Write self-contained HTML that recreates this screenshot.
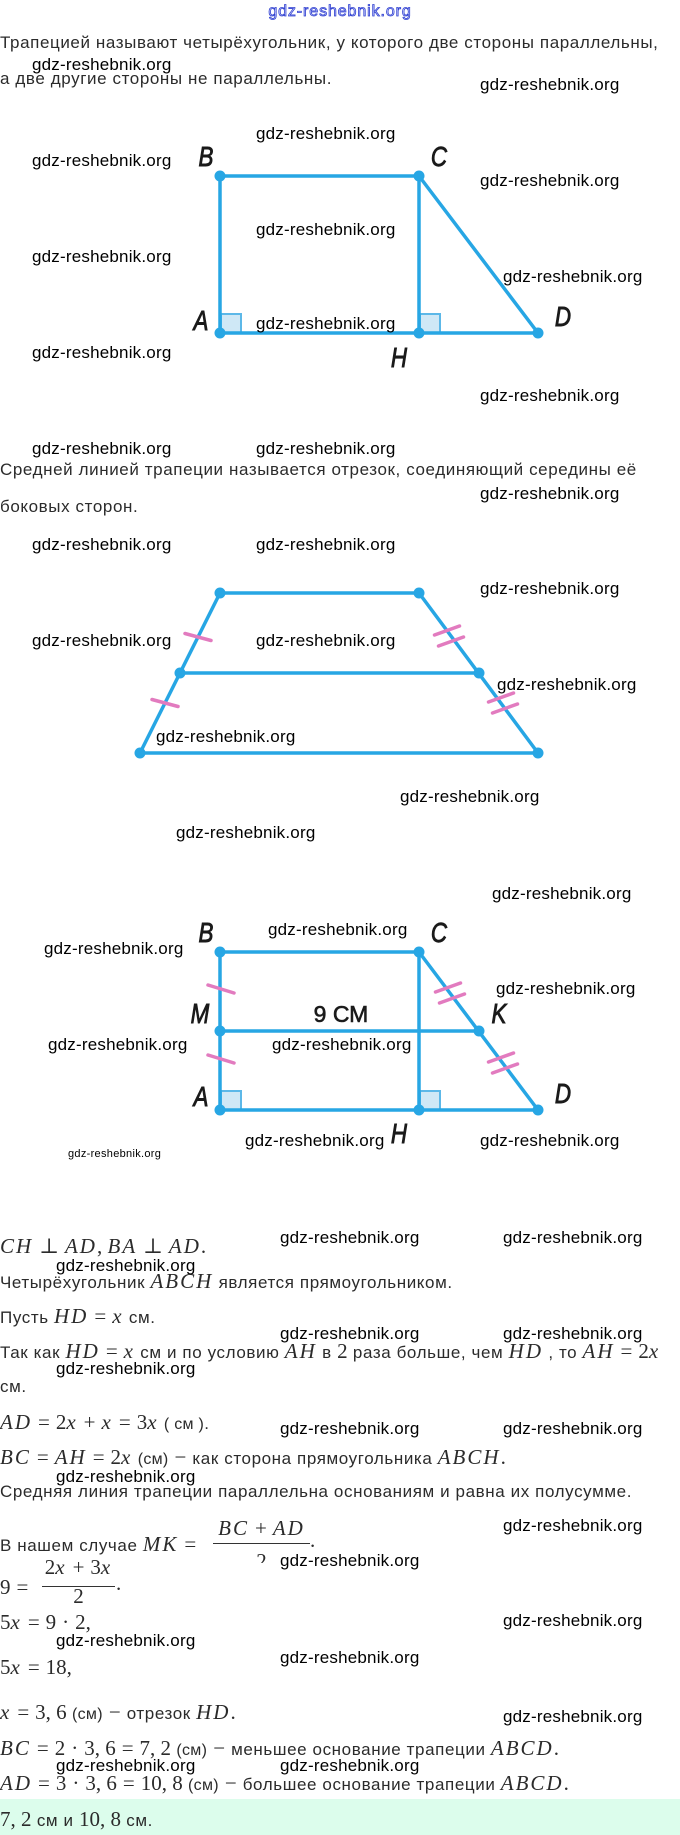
<!DOCTYPE html>
<html><head><meta charset="utf-8">
<style>
html,body{margin:0;padding:0;background:#fff;}
body{width:680px;height:1835px;position:relative;overflow:hidden;font-family:"Liberation Sans","DejaVu Sans",sans-serif;}
.t{position:absolute;left:0;white-space:nowrap;font-size:17px;line-height:20px;color:#2b2b2b;letter-spacing:0.6px;}
.w{position:absolute;white-space:nowrap;font-size:17px;line-height:20px;color:#000;font-family:"Liberation Sans",sans-serif;letter-spacing:0.2px;}
.m{font-family:"Liberation Serif","DejaVu Serif",serif;font-style:italic;font-size:21px;letter-spacing:2px;color:#2b2b2b;}
.r{font-family:"Liberation Serif","DejaVu Serif",serif;font-size:21px;color:#2b2b2b;letter-spacing:0;}
.o{font-family:"Liberation Serif","DejaVu Serif",serif;font-size:21px;margin:0 6px;color:#2b2b2b;letter-spacing:0;}
.c{font-size:16px;letter-spacing:0.3px;}
.fr{position:absolute;text-align:center;white-space:nowrap;font-size:17px;line-height:20px;}
.bar{position:absolute;height:1px;background:#333;}
</style></head>
<body>

<svg width="680" height="1835" style="position:absolute;left:0;top:0" xmlns="http://www.w3.org/2000/svg">
  <g fill="#cfe8f6" stroke="#5cb8e8" stroke-width="2">
    <rect x="221" y="314" width="20" height="19"/>
    <rect x="420" y="314" width="20" height="19"/>
    <rect x="221" y="1091" width="20" height="19"/>
    <rect x="420" y="1091" width="20" height="19"/>
  </g>
  <g stroke="#27a6e4" stroke-width="3.5" stroke-linecap="round" fill="none">
    <path d="M220 176H419M220 176V333M419 176V333M419 176L538 333M220 333H538"/>
    <path d="M220 593H419M220 593L140 753M419 593L538 753M180 673H479M140 753H538"/>
    <path d="M220 952H419M220 952V1110M419 952V1110M419 952L538 1110M220 1110H538M220 1031H479"/>
  </g>
  <g fill="#27a6e4">
    <circle cx="220" cy="176" r="5.5"/><circle cx="419" cy="176" r="5.5"/>
    <circle cx="220" cy="333" r="5.5"/><circle cx="419" cy="333" r="5.5"/><circle cx="538" cy="333" r="5.5"/>
    <circle cx="220" cy="593" r="5.5"/><circle cx="419" cy="593" r="5.5"/>
    <circle cx="180" cy="673" r="5.5"/><circle cx="479" cy="673" r="5.5"/>
    <circle cx="140" cy="753" r="5.5"/><circle cx="538" cy="753" r="5.5"/>
    <circle cx="220" cy="952" r="5.5"/><circle cx="419" cy="952" r="5.5"/>
    <circle cx="220" cy="1031" r="5.5"/><circle cx="479" cy="1031" r="5.5"/>
    <circle cx="220" cy="1110" r="5.5"/><circle cx="419" cy="1110" r="5.5"/><circle cx="538" cy="1110" r="5.5"/>
  </g>
  <g stroke="#e27bbf" stroke-width="3.5" stroke-linecap="round" fill="none">
    <path d="M185 633.5L211 640.5"/>
    <path d="M152 699.5L178 706.5"/>
    <path d="M434.5 635L459.5 626M438.5 646L463.5 637"/>
    <path d="M488.5 702L513.5 693M492.5 713L517.5 704"/>
    <path d="M208 985L234 993"/>
    <path d="M208 1055L234 1063"/>
    <path d="M435.5 992L460.5 983M439.5 1003L464.5 994"/>
    <path d="M488.5 1062L513.5 1053M492.5 1073L517.5 1064"/>
  </g>
  <g font-family="Liberation Sans, sans-serif" font-style="italic" font-size="28" fill="#1a1a1a" stroke="#1a1a1a" stroke-width="0.9" text-anchor="middle">
    <text transform="translate(206,166) scale(0.8,1)">B</text>
    <text transform="translate(439,166) scale(0.8,1)">C</text>
    <text transform="translate(201,330) scale(0.8,1)">A</text>
    <text transform="translate(563,326) scale(0.8,1)">D</text>
    <text transform="translate(399,367) scale(0.8,1)">H</text>
    <text transform="translate(206,942) scale(0.8,1)">B</text>
    <text transform="translate(439,942) scale(0.8,1)">C</text>
    <text transform="translate(200,1023) scale(0.8,1)">M</text>
    <text transform="translate(499,1023) scale(0.8,1)">K</text>
    <text transform="translate(201,1106) scale(0.8,1)">A</text>
    <text transform="translate(563,1103) scale(0.8,1)">D</text>
    <text transform="translate(399,1143) scale(0.8,1)">H</text>
  </g>
  <text x="341" y="1022" font-family="Liberation Sans, sans-serif" font-size="23" fill="#1a1a1a" stroke="#1a1a1a" stroke-width="0.6" text-anchor="middle">9 СМ</text>
</svg>

<div style="position:absolute;left:0;top:2px;width:680px;text-align:center;font-size:16px;line-height:20px;letter-spacing:0.9px;color:#d8dcff;-webkit-text-stroke:0.8px #3040d0;">gdz-reshebnik.org</div>

<div class="t" style="top:33px">Трапецией называют четырёхугольник, у которого две стороны параллельны,</div>
<div class="t" style="top:69px">а две другие стороны не параллельны.</div>
<div class="t" style="top:460px">Средней линией трапеции называется отрезок, соединяющий середины её</div>
<div class="t" style="top:497px">боковых сторон.</div>

<div class="t" style="top:1236px"><span class="m">CH</span><span class="o">⊥</span><span class="m">AD</span><span class="r">,</span> <span class="m">BA</span><span class="o">⊥</span><span class="m">AD</span><span class="r">.</span></div>
<div class="t" style="top:1271px">Четырёхугольник <span class="m">ABCH</span> является прямоугольником.</div>
<div class="t" style="top:1306px">Пусть <span class="m">HD</span><span class="o">=</span><span class="m">x</span> см.</div>
<div class="t" style="top:1341px">Так как <span class="m">HD</span><span class="o">=</span><span class="m">x</span> см и по условию <span class="m">AH</span> в <span class="r">2</span> раза больше, чем <span class="m">HD</span> , то <span class="m">AH</span><span class="o">=</span><span class="r">2</span><span class="m">x</span></div>
<div class="t" style="top:1377px">см.</div>
<div class="t" style="top:1412px"><span class="m">AD</span><span class="o">=</span><span class="r">2</span><span class="m">x</span><span class="o">+</span><span class="m">x</span><span class="o">=</span><span class="r">3</span><span class="m">x</span> <span class="c">( см )</span>.</div>
<div class="t" style="top:1447px"><span class="m">BC</span><span class="o">=</span><span class="m">AH</span><span class="o">=</span><span class="r">2</span><span class="m">x</span> <span class="c">(см)</span><span class="o">−</span>как сторона прямоугольника <span class="m">ABCH</span><span class="r">.</span></div>
<div class="t" style="top:1482px">Средняя линия трапеции параллельна основаниям и равна их полусумме.</div>

<div class="t" style="top:1534px">В нашем случае <span class="m">MK</span><span class="o">=</span></div>
<div class="fr" style="left:213px;width:97px;top:1518px"><span class="m">BC</span><span class="o">+</span><span class="m">AD</span></div>
<div class="bar" style="left:213px;top:1543px;width:97px"></div>
<div style="position:absolute;left:213px;top:1553px;width:97px;height:10px;overflow:hidden;">
  <div class="fr" style="left:0;width:97px;top:-2px"><span class="r">2</span></div>
</div>
<div class="t" style="top:1530px;left:310px"><span class="r">.</span></div>

<div class="t" style="top:1577px"><span class="r">9</span><span class="o">=</span></div>
<div class="fr" style="left:42px;width:73px;top:1557px"><span class="r">2</span><span class="m">x</span><span class="o">+</span><span class="r">3</span><span class="m">x</span></div>
<div class="bar" style="left:42px;top:1586px;width:73px"></div>
<div class="fr" style="left:42px;width:73px;top:1586px"><span class="r">2</span></div>
<div class="t" style="top:1573px;left:116px"><span class="r">.</span></div>

<div class="t" style="top:1612px"><span class="r">5</span><span class="m">x</span><span class="o">=</span><span class="r">9</span><span class="o">·</span><span class="r">2,</span></div>
<div class="t" style="top:1657px"><span class="r">5</span><span class="m">x</span><span class="o">=</span><span class="r">18,</span></div>
<div class="t" style="top:1702px"><span class="m">x</span><span class="o">=</span><span class="r">3, 6</span> <span class="c">(см)</span><span class="o">−</span>отрезок <span class="m">HD</span><span class="r">.</span></div>
<div class="t" style="top:1738px"><span class="m">BC</span><span class="o">=</span><span class="r">2</span><span class="o">·</span><span class="r">3, 6</span><span class="o">=</span><span class="r">7, 2</span> <span class="c">(см)</span><span class="o">−</span>меньшее основание трапеции <span class="m">ABCD</span><span class="r">.</span></div>
<div class="t" style="top:1773px"><span class="m">AD</span><span class="o">=</span><span class="r">3</span><span class="o">·</span><span class="r">3, 6</span><span class="o">=</span><span class="r">10, 8</span> <span class="c">(см)</span><span class="o">−</span>большее основание трапеции <span class="m">ABCD</span><span class="r">.</span></div>

<div style="position:absolute;left:0;top:1799px;width:680px;height:36px;background:#dcfdec;"></div>
<div class="t" style="top:1809px"><span class="r">7, 2</span> см и <span class="r">10, 8</span> см.</div>

<div class="w" style="left:32px;top:55px">gdz-reshebnik.org</div>
<div class="w" style="left:480px;top:75px">gdz-reshebnik.org</div>
<div class="w" style="left:256px;top:124px">gdz-reshebnik.org</div>
<div class="w" style="left:32px;top:151px">gdz-reshebnik.org</div>
<div class="w" style="left:480px;top:171px">gdz-reshebnik.org</div>
<div class="w" style="left:256px;top:220px">gdz-reshebnik.org</div>
<div class="w" style="left:32px;top:247px">gdz-reshebnik.org</div>
<div class="w" style="left:503px;top:267px">gdz-reshebnik.org</div>
<div class="w" style="left:256px;top:314px">gdz-reshebnik.org</div>
<div class="w" style="left:32px;top:343px">gdz-reshebnik.org</div>
<div class="w" style="left:480px;top:386px">gdz-reshebnik.org</div>
<div class="w" style="left:32px;top:439px">gdz-reshebnik.org</div>
<div class="w" style="left:256px;top:439px">gdz-reshebnik.org</div>
<div class="w" style="left:480px;top:484px">gdz-reshebnik.org</div>
<div class="w" style="left:32px;top:535px">gdz-reshebnik.org</div>
<div class="w" style="left:256px;top:535px">gdz-reshebnik.org</div>
<div class="w" style="left:480px;top:579px">gdz-reshebnik.org</div>
<div class="w" style="left:32px;top:631px">gdz-reshebnik.org</div>
<div class="w" style="left:256px;top:631px">gdz-reshebnik.org</div>
<div class="w" style="left:497px;top:675px">gdz-reshebnik.org</div>
<div class="w" style="left:156px;top:727px">gdz-reshebnik.org</div>
<div class="w" style="left:400px;top:787px">gdz-reshebnik.org</div>
<div class="w" style="left:176px;top:823px">gdz-reshebnik.org</div>
<div class="w" style="left:492px;top:884px">gdz-reshebnik.org</div>
<div class="w" style="left:268px;top:920px">gdz-reshebnik.org</div>
<div class="w" style="left:44px;top:939px">gdz-reshebnik.org</div>
<div class="w" style="left:496px;top:979px">gdz-reshebnik.org</div>
<div class="w" style="left:48px;top:1035px">gdz-reshebnik.org</div>
<div class="w" style="left:272px;top:1035px">gdz-reshebnik.org</div>
<div class="w" style="left:245px;top:1131px">gdz-reshebnik.org</div>
<div class="w" style="left:480px;top:1131px">gdz-reshebnik.org</div>
<div class="w" style="left:68px;top:1148px;font-size:11px;line-height:13px;letter-spacing:0.3px">gdz-reshebnik.org</div>
<div class="w" style="left:280px;top:1228px">gdz-reshebnik.org</div>
<div class="w" style="left:503px;top:1228px">gdz-reshebnik.org</div>
<div class="w" style="left:56px;top:1256px">gdz-reshebnik.org</div>
<div class="w" style="left:280px;top:1324px">gdz-reshebnik.org</div>
<div class="w" style="left:503px;top:1324px">gdz-reshebnik.org</div>
<div class="w" style="left:56px;top:1359px">gdz-reshebnik.org</div>
<div class="w" style="left:280px;top:1419px">gdz-reshebnik.org</div>
<div class="w" style="left:503px;top:1419px">gdz-reshebnik.org</div>
<div class="w" style="left:56px;top:1467px">gdz-reshebnik.org</div>
<div class="w" style="left:503px;top:1516px">gdz-reshebnik.org</div>
<div class="w" style="left:280px;top:1551px">gdz-reshebnik.org</div>
<div class="w" style="left:503px;top:1611px">gdz-reshebnik.org</div>
<div class="w" style="left:56px;top:1631px">gdz-reshebnik.org</div>
<div class="w" style="left:280px;top:1648px">gdz-reshebnik.org</div>
<div class="w" style="left:503px;top:1707px">gdz-reshebnik.org</div>
<div class="w" style="left:56px;top:1756px">gdz-reshebnik.org</div>
<div class="w" style="left:280px;top:1756px">gdz-reshebnik.org</div>

</body></html>
